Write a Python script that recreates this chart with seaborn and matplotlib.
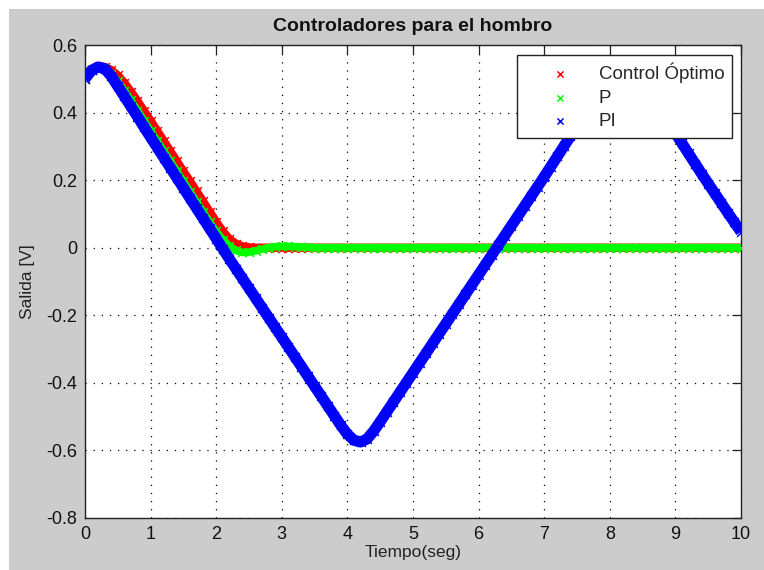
import matplotlib
matplotlib.use("Agg")
import matplotlib.pyplot as plt
from matplotlib.patches import Rectangle
import seaborn as sns

# ---------------- data ----------------
t = [0.0, 0.1, 0.2, 0.3, 0.4, 0.5, 0.6, 0.7, 0.8, 0.9,
     1.0, 1.1, 1.2, 1.3, 1.4, 1.5, 1.6, 1.7, 1.8, 1.9,
     2.0, 2.1, 2.2, 2.3, 2.4, 2.5, 2.6, 2.7, 2.8, 2.9,
     3.0, 3.1, 3.2, 3.3, 3.4, 3.5, 3.6, 3.7, 3.8, 3.9,
     4.0, 4.1, 4.2, 4.3, 4.4, 4.5, 4.6, 4.7, 4.8, 4.9,
     5.0, 5.1, 5.2, 5.3, 5.4, 5.5, 5.6, 5.7, 5.8, 5.9,
     6.0, 6.1, 6.2, 6.3, 6.4, 6.5, 6.6, 6.7, 6.8, 6.9,
     7.0, 7.1, 7.2, 7.3, 7.4, 7.5, 7.6, 7.7, 7.8, 7.9,
     8.0, 8.1, 8.2, 8.3, 8.4, 8.5, 8.6, 8.7, 8.8, 8.9,
     9.0, 9.1, 9.2, 9.3, 9.4, 9.5, 9.6, 9.7, 9.8, 9.9,
     10.0]

control_optimo = [0.500, 0.525, 0.536, 0.535, 0.526, 0.510, 0.488, 0.462, 0.434, 0.405,
                  0.376, 0.346, 0.316, 0.286, 0.256, 0.226, 0.197, 0.167, 0.137, 0.107,
                  0.077, 0.049, 0.026, 0.012, 0.004, 0.001, 0.0, 0.0, 0.0, 0.0,
                  0.0, 0.0, 0.0, 0.0, 0.0, 0.0, 0.0, 0.0, 0.0, 0.0,
                  0.0, 0.0, 0.0, 0.0, 0.0, 0.0, 0.0, 0.0, 0.0, 0.0,
                  0.0, 0.0, 0.0, 0.0, 0.0, 0.0, 0.0, 0.0, 0.0, 0.0,
                  0.0, 0.0, 0.0, 0.0, 0.0, 0.0, 0.0, 0.0, 0.0, 0.0,
                  0.0, 0.0, 0.0, 0.0, 0.0, 0.0, 0.0, 0.0, 0.0, 0.0,
                  0.0, 0.0, 0.0, 0.0, 0.0, 0.0, 0.0, 0.0, 0.0, 0.0,
                  0.0, 0.0, 0.0, 0.0, 0.0, 0.0, 0.0, 0.0, 0.0, 0.0,
                  0.0]

p_ctrl = [0.500, 0.525, 0.535, 0.531, 0.515, 0.492, 0.465, 0.436, 0.406, 0.376,
          0.346, 0.316, 0.286, 0.256, 0.226, 0.196, 0.166, 0.136, 0.106, 0.076,
          0.048, 0.024, 0.005, -0.008, -0.014, -0.013, -0.009, -0.004, 0.000, 0.003,
          0.004, 0.004, 0.003, 0.002, 0.001, 0.0, 0.0, 0.0, 0.0, 0.0,
          0.0, 0.0, 0.0, 0.0, 0.0, 0.0, 0.0, 0.0, 0.0, 0.0,
          0.0, 0.0, 0.0, 0.0, 0.0, 0.0, 0.0, 0.0, 0.0, 0.0,
          0.0, 0.0, 0.0, 0.0, 0.0, 0.0, 0.0, 0.0, 0.0, 0.0,
          0.0, 0.0, 0.0, 0.0, 0.0, 0.0, 0.0, 0.0, 0.0, 0.0,
          0.0, 0.0, 0.0, 0.0, 0.0, 0.0, 0.0, 0.0, 0.0, 0.0,
          0.0, 0.0, 0.0, 0.0, 0.0, 0.0, 0.0, 0.0, 0.0, 0.0,
          0.0]

pi_ctrl = [0.500, 0.525, 0.535, 0.530, 0.508, 0.478, 0.448, 0.418, 0.388, 0.357,
           0.327, 0.297, 0.267, 0.237, 0.207, 0.177, 0.147, 0.117, 0.087, 0.057,
           0.027, -0.003, -0.033, -0.062, -0.091, -0.120, -0.149, -0.178, -0.207, -0.236,
           -0.265, -0.294, -0.323, -0.352, -0.381, -0.410, -0.439, -0.468, -0.497, -0.526,
           -0.552, -0.570, -0.575, -0.566, -0.543, -0.515, -0.486, -0.457, -0.428, -0.399,
           -0.370, -0.341, -0.312, -0.283, -0.254, -0.225, -0.196, -0.167, -0.138, -0.109,
           -0.080, -0.051, -0.022, 0.007, 0.036, 0.065, 0.094, 0.123, 0.152, 0.181,
           0.210, 0.240, 0.270, 0.300, 0.330, 0.360, 0.390, 0.420, 0.450, 0.478,
           0.505, 0.530, 0.540, 0.532, 0.512, 0.486, 0.458, 0.429, 0.399, 0.369,
           0.339, 0.309, 0.279, 0.249, 0.219, 0.190, 0.161, 0.132, 0.103, 0.075,
           0.047]

series_labels = ["Control Óptimo", "P", "PI"]
series_colors = ["#ff0000", "#00ff00", "#0000ff"]
x_ticks = [0, 1, 2, 3, 4, 5, 6, 7, 8, 9, 10]
y_ticks = [-0.8, -0.6, -0.4, -0.2, 0.0, 0.2, 0.4, 0.6]
y_tick_labels = ["-0.8", "-0.6", "-0.4", "-0.2", "0", "0.2", "0.4", "0.6"]

# ---------------- style ----------------
sns.set_theme(style="white")
plt.rcParams["font.family"] = ["Liberation Sans", "DejaVu Sans"]

GRAY = "#cccccc"
fig = plt.figure(figsize=(7.64, 5.70), dpi=100, facecolor="white")
fig.add_artist(Rectangle((9 / 764, 0), 1, 1 - 9 / 570, transform=fig.transFigure,
                         facecolor=GRAY, edgecolor="none", zorder=-5))

ax = fig.add_axes([85 / 764, 1 - 518 / 570, 656 / 764, 473 / 570])
ax.set_facecolor("white")

series = [control_optimo, p_ctrl, pi_ctrl]
line_w = [6.0, 5.5, 8.0]
for i, (vals, lab, col, lw) in enumerate(zip(series, series_labels, series_colors, line_w)):
    sns.lineplot(x=t, y=vals, color=col, linewidth=lw, ax=ax, zorder=3 + i,
                 solid_capstyle="butt")
    sns.scatterplot(x=t, y=vals, marker="x", color=col, s=40, linewidth=1.1,
                    ax=ax, zorder=3.5 + i, label=lab)

ax.set_xlim(0, 10)
ax.set_ylim(-0.8, 0.6)
ax.set_xticks(x_ticks)
ax.set_xticklabels([str(v) for v in x_ticks])
ax.set_yticks(y_ticks)
ax.set_yticklabels(y_tick_labels)

ax.set_axisbelow(True)
ax.grid(True, color="black", linestyle=(0, (1, 5.5)), linewidth=0.9)

ax.tick_params(direction="in", length=6.5, width=0.9, top=True, right=True,
               labelsize=13, labelcolor="#111111", color="#222222", pad=5.5)
for sp in ax.spines.values():
    sp.set_visible(True)
    sp.set_color("#222222")
    sp.set_linewidth(1.0)

ax.set_title("Controladores para el hombro", fontsize=14, fontweight="bold",
             color="#111111", pad=10)
ax.set_xlabel("Tiempo(seg)", fontsize=12.5, color="#222222", labelpad=2)
ax.set_ylabel("Salida [V]", fontsize=12.5, color="#222222", labelpad=8)

leg = ax.legend(loc="upper right", bbox_to_anchor=(0.9863, 0.979), borderaxespad=0,
                fontsize=13.5, frameon=True, fancybox=False, framealpha=1,
                edgecolor="#222222", handlelength=3.8, handletextpad=0.15,
                labelspacing=0.33, borderpad=0.42, markerscale=0.7)
leg.get_frame().set_linewidth(1.0)
leg.set_zorder(20)

fig.savefig("out.png", dpi=100, facecolor=fig.get_facecolor())
